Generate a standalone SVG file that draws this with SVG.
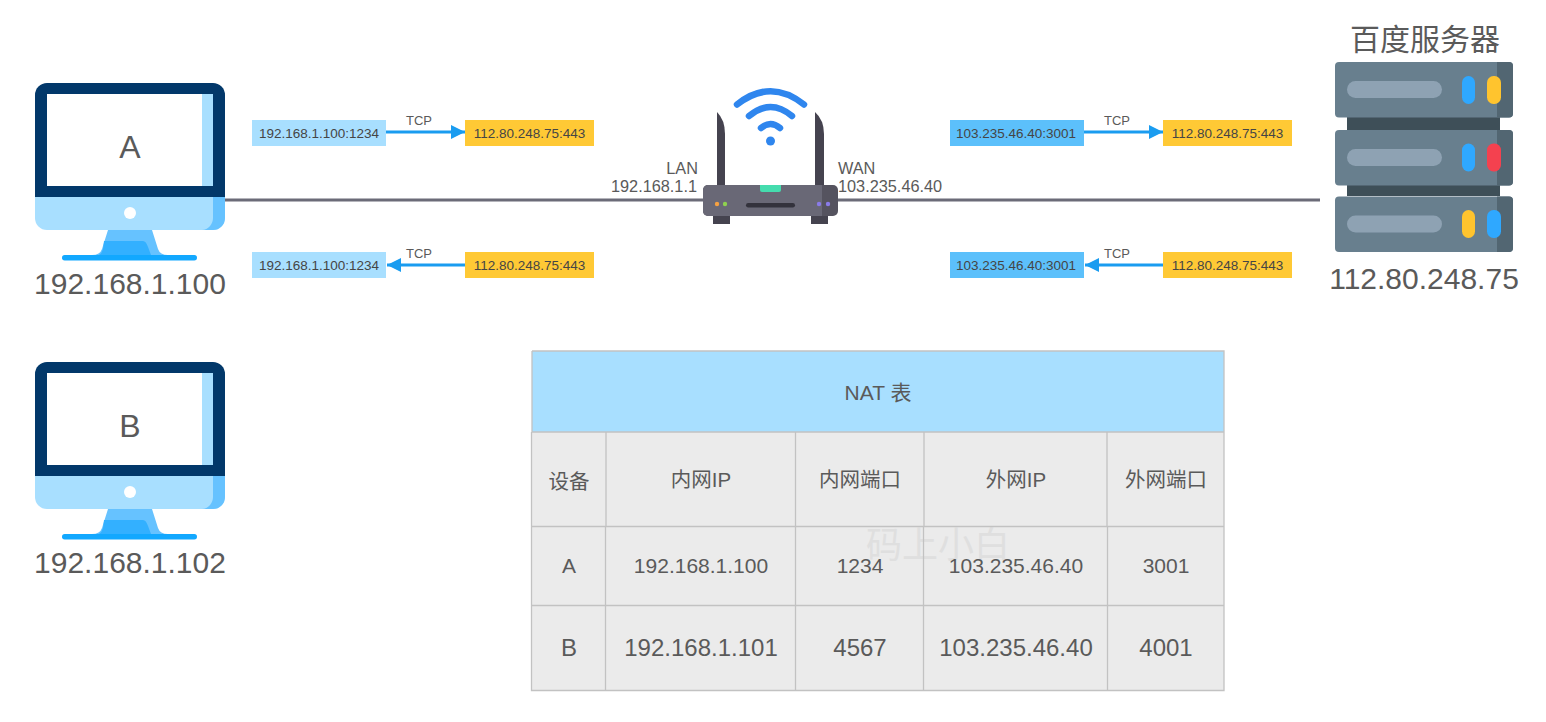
<svg xmlns="http://www.w3.org/2000/svg" width="1546" height="722" viewBox="0 0 1546 722">
<style>
text{font-family:"Liberation Sans","Noto Sans CJK SC",sans-serif;fill:#5a5a5a;text-anchor:middle}
.big{font-size:32px}
.title{font-size:30px}
.ip{font-size:30px}
.side{font-size:16.300px}
.addr{font-size:13.500px;fill:#454545}
.tcp{font-size:13px}
.cell{font-size:21px}
.cellb{font-size:24px}
.head{font-size:20.500px}
.mark{font-size:36px;fill:#dfdfdf}
.end{text-anchor:end}
.start{text-anchor:start}
.wire{stroke:#6b6b78;stroke-width:3;fill:none}
.flow{stroke:#1a9cf0;stroke-width:3;fill:none}
.grid{stroke:#c2c2c2;stroke-width:1.300;fill:none}
.wifi{stroke:#2f86ee;stroke-width:6.500;stroke-linecap:round;fill:none}
.pale{fill:#a8dfff}.mid{fill:#5cc0fb}.amber{fill:#ffc935}
.unit{fill:#687f8e}.shade{fill:#526672}.slot{fill:#8ea2b3}
</style>
<defs>
<marker id="head" markerUnits="userSpaceOnUse" markerWidth="15" markerHeight="14" refX="14" refY="7" orient="auto-start-reverse"><path d="M0 0L14 7L0 14z" fill="#1a9cf0"/></marker>
<g id="monitor">
<path d="M35 197h190v21a12 12 0 0 1-12 12H47a12 12 0 0 1-12-12z" fill="#a8dfff"/>
<path d="M213 197h12v21a12 12 0 0 1-12 12h-11a12 12 0 0 0 11-12z" fill="#66c2ff"/>
<path d="M47 83h166a12 12 0 0 1 12 12v102H35V95a12 12 0 0 1 12-12z" fill="#02386a"/>
<rect x="47" y="94" width="166" height="92" fill="#fff"/>
<rect x="202" y="94" width="11" height="92" fill="#a8dfff"/>
<circle cx="130" cy="213" r="6" fill="#fff"/>
<path d="M108 230h44l6 19q2 6 10 6h-76q8 0 10-6z" fill="#66c2ff"/>
<path d="M104 241h39q3 0 5 6l3 8h-52q3-2 4-6z" fill="#33b0ff"/>
<rect x="62" y="255" width="135" height="5.500" rx="2.700" fill="#12a8ff"/>
</g>
<g id="rack">
<rect width="178" height="55.500" rx="4" class="unit"/>
<path d="M162 0h12a4 4 0 0 1 4 4v47.500a4 4 0 0 1-4 4h-12z" class="shade"/>
<rect x="12" y="19" width="95" height="17" rx="8.500" class="slot"/>
</g>
</defs>

<g id="connectors">
<path class="wire" d="M225 200H704"/>
<path class="wire" d="M838 200H1320"/>
<path class="flow" d="M386 132H465" marker-end="url(#head)"/>
<path class="flow" d="M465 265H387" marker-end="url(#head)"/>
<path class="flow" d="M1084 132H1163" marker-end="url(#head)"/>
<path class="flow" d="M1163 265H1085" marker-end="url(#head)"/>
</g>

<g id="host-a">
<use href="#monitor"/>
<text x="130" y="158" class="big">A</text>
<text x="130" y="294" class="ip">192.168.1.100</text>
</g>
<g id="host-b">
<use href="#monitor" y="279"/>
<text x="130" y="437" class="big">B</text>
<text x="130" y="573" class="ip">192.168.1.102</text>
</g>

<g id="router">
<path d="M717 112q8 8 8 22v52h-8z" fill="#45434f"/>
<path d="M815 112q9 8 9 22v52h-9z" fill="#45434f"/>
<rect x="713" y="214" width="17" height="10" fill="#45434f"/>
<rect x="811" y="214" width="17" height="10" fill="#45434f"/>
<rect x="703" y="185" width="135" height="31" rx="5" fill="#55535f"/>
<path d="M708 185h114v31H708a5 5 0 0 1-5-5v-21a5 5 0 0 1 5-5z" fill="#696876"/>
<path d="M760 185h21v5a2 2 0 0 1-2 2h-17a2 2 0 0 1-2-2z" fill="#45dcae"/>
<rect x="746" y="203" width="49" height="4.500" rx="2.200" fill="#33323c"/>
<circle cx="717" cy="204" r="2.200" fill="#f5a142"/>
<circle cx="725" cy="204" r="2.200" fill="#8fd14f"/>
<circle cx="819" cy="204" r="2.200" fill="#8a7be8"/>
<circle cx="828" cy="204" r="2.200" fill="#8a7be8"/>
<path class="wifi" d="M737 104.500Q770.500 78 804 104.500"/>
<path class="wifi" d="M749 116Q770.500 98 792 116"/>
<path class="wifi" d="M761 128Q770.500 120 780 128"/>
<circle cx="770.500" cy="141" r="4.500" fill="#2f86ee"/>
<text x="698" y="174" class="side end">LAN</text>
<text x="697" y="192" class="side end">192.168.1.1</text>
<text x="838" y="174" class="side start">WAN</text>
<text x="838" y="192" class="side start">103.235.46.40</text>
</g>

<g id="server">
<text x="1425" y="50" class="title">百度服务器</text>
<rect x="1347" y="117" width="153" height="13" fill="#3e4f58"/>
<rect x="1347" y="185" width="153" height="11" fill="#3e4f58"/>
<use href="#rack" x="1335" y="62"/>
<use href="#rack" x="1335" y="130"/>
<use href="#rack" x="1335" y="196.500"/>
<rect x="1462" y="76" width="13" height="28" rx="6.500" fill="#2fa8ff"/>
<rect x="1487" y="76" width="14" height="28" rx="6.500" fill="#ffc42e"/>
<rect x="1462" y="143.500" width="13" height="28" rx="6.500" fill="#2fa8ff"/>
<rect x="1487" y="143.500" width="14" height="28" rx="6.500" fill="#f4414f"/>
<rect x="1462" y="210" width="13" height="28" rx="6.500" fill="#ffc42e"/>
<rect x="1487" y="210" width="14" height="28" rx="6.500" fill="#2fa8ff"/>
<text x="1424" y="289" class="ip">112.80.248.75</text>
</g>

<g id="flow-lan-out">
<rect x="252" y="120" width="134" height="26" class="pale"/><text x="319" y="138" class="addr">192.168.1.100:1234</text>
<rect x="465" y="120" width="129" height="26" class="amber"/><text x="529.500" y="138" class="addr">112.80.248.75:443</text>
<text x="419" y="125" class="tcp">TCP</text>
</g>
<g id="flow-lan-back">
<rect x="252" y="252" width="134" height="26" class="pale"/><text x="319" y="270" class="addr">192.168.1.100:1234</text>
<rect x="465" y="252" width="129" height="26" class="amber"/><text x="529.500" y="270" class="addr">112.80.248.75:443</text>
<text x="419" y="258" class="tcp">TCP</text>
</g>
<g id="flow-wan-out">
<rect x="950" y="120" width="134" height="26" class="mid"/><text x="1016" y="138" class="addr">103.235.46.40:3001</text>
<rect x="1163" y="120" width="129" height="26" class="amber"/><text x="1227.500" y="138" class="addr">112.80.248.75:443</text>
<text x="1117" y="125" class="tcp">TCP</text>
</g>
<g id="flow-wan-back">
<rect x="950" y="252" width="134" height="26" class="mid"/><text x="1016" y="270" class="addr">103.235.46.40:3001</text>
<rect x="1163" y="252" width="129" height="26" class="amber"/><text x="1227.500" y="270" class="addr">112.80.248.75:443</text>
<text x="1117" y="258" class="tcp">TCP</text>
</g>

<g id="nat-table">
<rect x="532" y="351" width="692" height="81" fill="#a8dfff"/>
<rect x="532" y="432" width="692" height="258" fill="#ebebeb"/>
<text x="938" y="558" class="mark">码上小白</text>
<path class="grid" d="M532 351H1224V690.500H531.500V432M532 351V432H1224M532 526.500H1224M532 605.500H1224"/>
<path class="grid" d="M606 432V526M795.500 432V526M924 432V526M1107 432V526M605.500 526V690M795.500 526V690M923.500 526V690M1107.500 526V690"/>
<text x="878" y="400" class="cell">NAT 表</text>
<text x="569" y="489" class="head">设备</text>
<text x="701" y="487" class="head">内网IP</text>
<text x="860" y="487" class="head">内网端口</text>
<text x="1016" y="487" class="head">外网IP</text>
<text x="1166" y="487" class="head">外网端口</text>
<text x="569" y="573" class="cell">A</text>
<text x="701" y="573" class="cell">192.168.1.100</text>
<text x="860" y="573" class="cell">1234</text>
<text x="1016" y="573" class="cell">103.235.46.40</text>
<text x="1166" y="573" class="cell">3001</text>
<text x="569" y="656" class="cellb">B</text>
<text x="701" y="656" class="cellb">192.168.1.101</text>
<text x="860" y="656" class="cellb">4567</text>
<text x="1016" y="656" class="cellb">103.235.46.40</text>
<text x="1166" y="656" class="cellb">4001</text>
</g>
</svg>
